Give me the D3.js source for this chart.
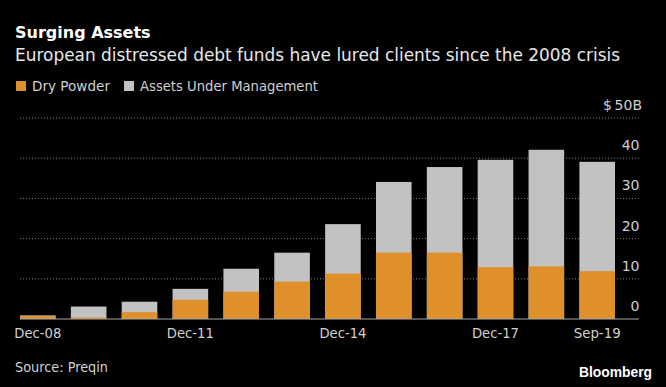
<!DOCTYPE html>
<html>
<head>
<meta charset="utf-8">
<script src="https://cdn.jsdelivr.net/npm/d3@7"></script>
<style>
  html, body { margin: 0; padding: 0; background: #000; }
  svg { display: block; font-family: "DejaVu Sans", sans-serif; }
</style>
</head>
<body>
<div id="chart"></div>
<script>
// data ($ billions)
var categories = ["Dec-08", "Dec-09", "Dec-10", "Dec-11", "Dec-12", "Dec-13",
                  "Dec-14", "Dec-15", "Dec-16", "Dec-17", "Dec-18", "Sep-19"];
var aum = [0.9, 3.1, 4.3, 7.5, 12.5, 16.5, 23.6, 34.1, 37.8, 39.6, 42.1, 39.1];
var dryPowder = [0.7, 0.4, 1.7, 4.8, 6.8, 9.3, 11.3, 16.5, 16.5, 12.9, 13.1, 11.9];
var yTicks = [0, 10, 20, 30, 40, 50];
var yTickLabels = ["0", "10", "20", "30", "40", "$\u200950B"];
var xTickLabels = ["Dec-08", "Dec-11", "Dec-14", "Dec-17", "Sep-19"];

const width = 666, height = 387;
const orange = "#e0902b", grey = "#c2c2c2";

const svg = d3.select("#chart").append("svg")
    .attr("width", width)
    .attr("height", height);

svg.append("rect").attr("width", width).attr("height", height).attr("fill", "#000");

// squeeze a text into a given width (the Bloomberg font is narrower)
function fit(sel, w) {
  var len = sel.node().getComputedTextLength();
  if (len > w) sel.attr("textLength", w).attr("lengthAdjust", "spacingAndGlyphs");
  return sel;
}

// titles
fit(svg.append("text").attr("x", 15).attr("y", 37.5)
    .attr("fill", "#fff").attr("font-size", 16).attr("font-weight", "bold")
    .text("Surging Assets"), 152);
fit(svg.append("text").attr("x", 15).attr("y", 61)
    .attr("fill", "#e8e8e8").attr("font-size", 18)
    .text("European distressed debt funds have lured clients since the 2008 crisis"), 605);

// legend
var legend = [{name: "Dry Powder", color: orange, x: 16, w: 78},
              {name: "Assets Under Management", color: grey, x: 124, w: 178}];
legend.forEach(function(d) {
  svg.append("rect").attr("x", d.x).attr("y", 81).attr("width", 10).attr("height", 10).attr("fill", d.color);
  fit(svg.append("text").attr("x", d.x + 16).attr("y", 91)
      .attr("fill", "#d0d0d0").attr("font-size", 14).text(d.name), d.w);
});

// scales
const x = d3.scaleBand().domain(categories).range([20, 615]).paddingInner(0.3).paddingOuter(0);
const y = d3.scaleLinear().domain([0, 50]).range([319, 118]);

// gridlines
svg.append("g").selectAll("line")
  .data(yTicks.filter(function(t) { return t > 0; }))
  .join("line")
    .attr("x1", 20).attr("x2", 639)
    .attr("y1", function(d) { return y(d); })
    .attr("y2", function(d) { return y(d); })
    .attr("stroke", "#808080")
    .attr("stroke-width", 1)
    .attr("stroke-dasharray", "1,2");

// bars: grey total, orange dry powder on top of it
svg.append("g").selectAll("rect")
  .data(aum)
  .join("rect")
    .attr("x", function(d, i) { return x(categories[i]); })
    .attr("width", x.bandwidth())
    .attr("y", function(d) { return y(d); })
    .attr("height", function(d) { return y(0) - y(d); })
    .attr("fill", grey);

svg.append("g").selectAll("rect")
  .data(dryPowder)
  .join("rect")
    .attr("x", function(d, i) { return x(categories[i]); })
    .attr("width", x.bandwidth())
    .attr("y", function(d) { return y(d); })
    .attr("height", function(d) { return y(0) - y(d); })
    .attr("fill", orange);

// baseline
svg.append("line")
  .attr("x1", 20).attr("x2", 639)
  .attr("y1", y(0)).attr("y2", y(0))
  .attr("stroke", "#a8a8a8").attr("stroke-width", 1.2);

// y labels sit above their gridline
svg.append("g").selectAll("text")
  .data(yTicks)
  .join("text")
    .attr("x", function(d, i) { return i == yTicks.length - 1 ? 642 : 639.5; })
    .attr("y", function(d) { return y(d) - 8; })
    .attr("text-anchor", "end")
    .attr("fill", "#d0d0d0")
    .attr("font-size", 14)
    .text(function(d, i) { return yTickLabels[i]; });

// x labels
svg.append("g").selectAll("text")
  .data(xTickLabels)
  .join("text")
    .attr("x", function(d) { return x(d) + x.bandwidth() / 2; })
    .attr("y", 338)
    .attr("text-anchor", "middle")
    .attr("fill", "#d0d0d0")
    .attr("font-size", 14)
    .each(function() { fit(d3.select(this), 47); })
    .text(function(d) { return d; })
    .each(function() { fit(d3.select(this), 47); });

// footer
fit(svg.append("text").attr("x", 15).attr("y", 372)
    .attr("fill", "#d0d0d0").attr("font-size", 14).text("Source: Preqin"), 93);
fit(svg.append("text").attr("x", 652).attr("y", 377).attr("text-anchor", "end")
    .attr("fill", "#fff").attr("font-size", 14).attr("font-weight", "bold")
    .attr("font-family", "Liberation Sans, Arial, sans-serif")
    .text("Bloomberg"), 73);
</script>
</body>
</html>
